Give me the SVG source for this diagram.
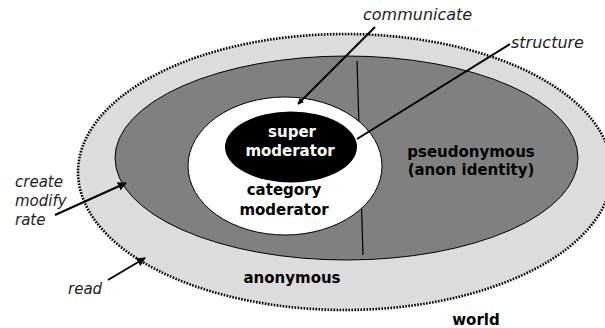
<svg xmlns="http://www.w3.org/2000/svg" width="605" height="328" viewBox="0 0 605 328">
<style>
.bold{font-family:"DejaVu Sans",Verdana,sans-serif;font-weight:bold;font-size:15px;text-anchor:middle}
.lbl{font-family:"DejaVu Sans",Verdana,sans-serif;font-style:italic;font-size:15px;fill:#222}
.conn{stroke:#000;stroke-width:2;fill:none}
</style>
<defs>
<marker id="ah" viewBox="0 0 10 10" refX="9" refY="5" markerWidth="4.5" markerHeight="4.5" orient="auto" markerUnits="strokeWidth">
<path d="M0,0 L10,5 L0,10 z" fill="#000"/>
</marker>
<marker id="ahs" viewBox="0 0 10 10" refX="9" refY="5" markerWidth="3" markerHeight="3" orient="auto" markerUnits="strokeWidth">
<path d="M0,0 L10,5 L0,10 z" fill="#000"/>
</marker>
</defs>
<rect width="605" height="328" fill="#fff"/>
<g id="world">
<ellipse cx="345" cy="172" rx="267" ry="138" fill="#dcdcdc" stroke="#000" stroke-width="2.6" stroke-dasharray="1.6 1.4"/>
<text class="bold" x="476" y="325">world</text>
<text class="bold" x="292" y="283">anonymous</text>
</g>
<g id="pseudonymous">
<ellipse cx="346.5" cy="158" rx="231.5" ry="102" fill="#808080" stroke="#000" stroke-width="1"/>
<line x1="357" y1="61" x2="363" y2="255" stroke="#000" stroke-width="1.2"/>
<text class="bold" x="471" y="157">pseudonymous</text>
<text class="bold" x="471" y="175">(anon identity)</text>
</g>
<g id="category-moderator">
<ellipse cx="285" cy="166" rx="97" ry="69" fill="#fff" stroke="#000" stroke-width="1"/>
<text class="bold" x="284" y="195">category</text>
<text class="bold" x="284" y="215">moderator</text>
</g>
<g id="super-moderator">
<ellipse cx="291" cy="147" rx="66" ry="35.5" fill="#000"/>
<text class="bold" x="292" y="137" fill="#fff">super</text>
<text class="bold" x="290" y="156" fill="#fff">moderator</text>
</g>
<g id="connectors">
<line class="conn" x1="375" y1="27" x2="298" y2="104" marker-end="url(#ahs)"/>
<line class="conn" x1="510" y1="44" x2="357" y2="139"/>
<line class="conn" x1="55" y1="215" x2="126" y2="183" marker-end="url(#ah)"/>
<line class="conn" x1="108" y1="280" x2="145" y2="258" marker-end="url(#ah)"/>
</g>
<g id="labels">
<text class="lbl" x="363" y="20" style="font-size:16px">communicate</text>
<text class="lbl" x="511" y="48" style="font-size:16px">structure</text>
<text class="lbl" x="15" y="187">create</text>
<text class="lbl" x="15" y="206">modify</text>
<text class="lbl" x="15" y="225">rate</text>
<text class="lbl" x="68" y="294">read</text>
</g>
</svg>
